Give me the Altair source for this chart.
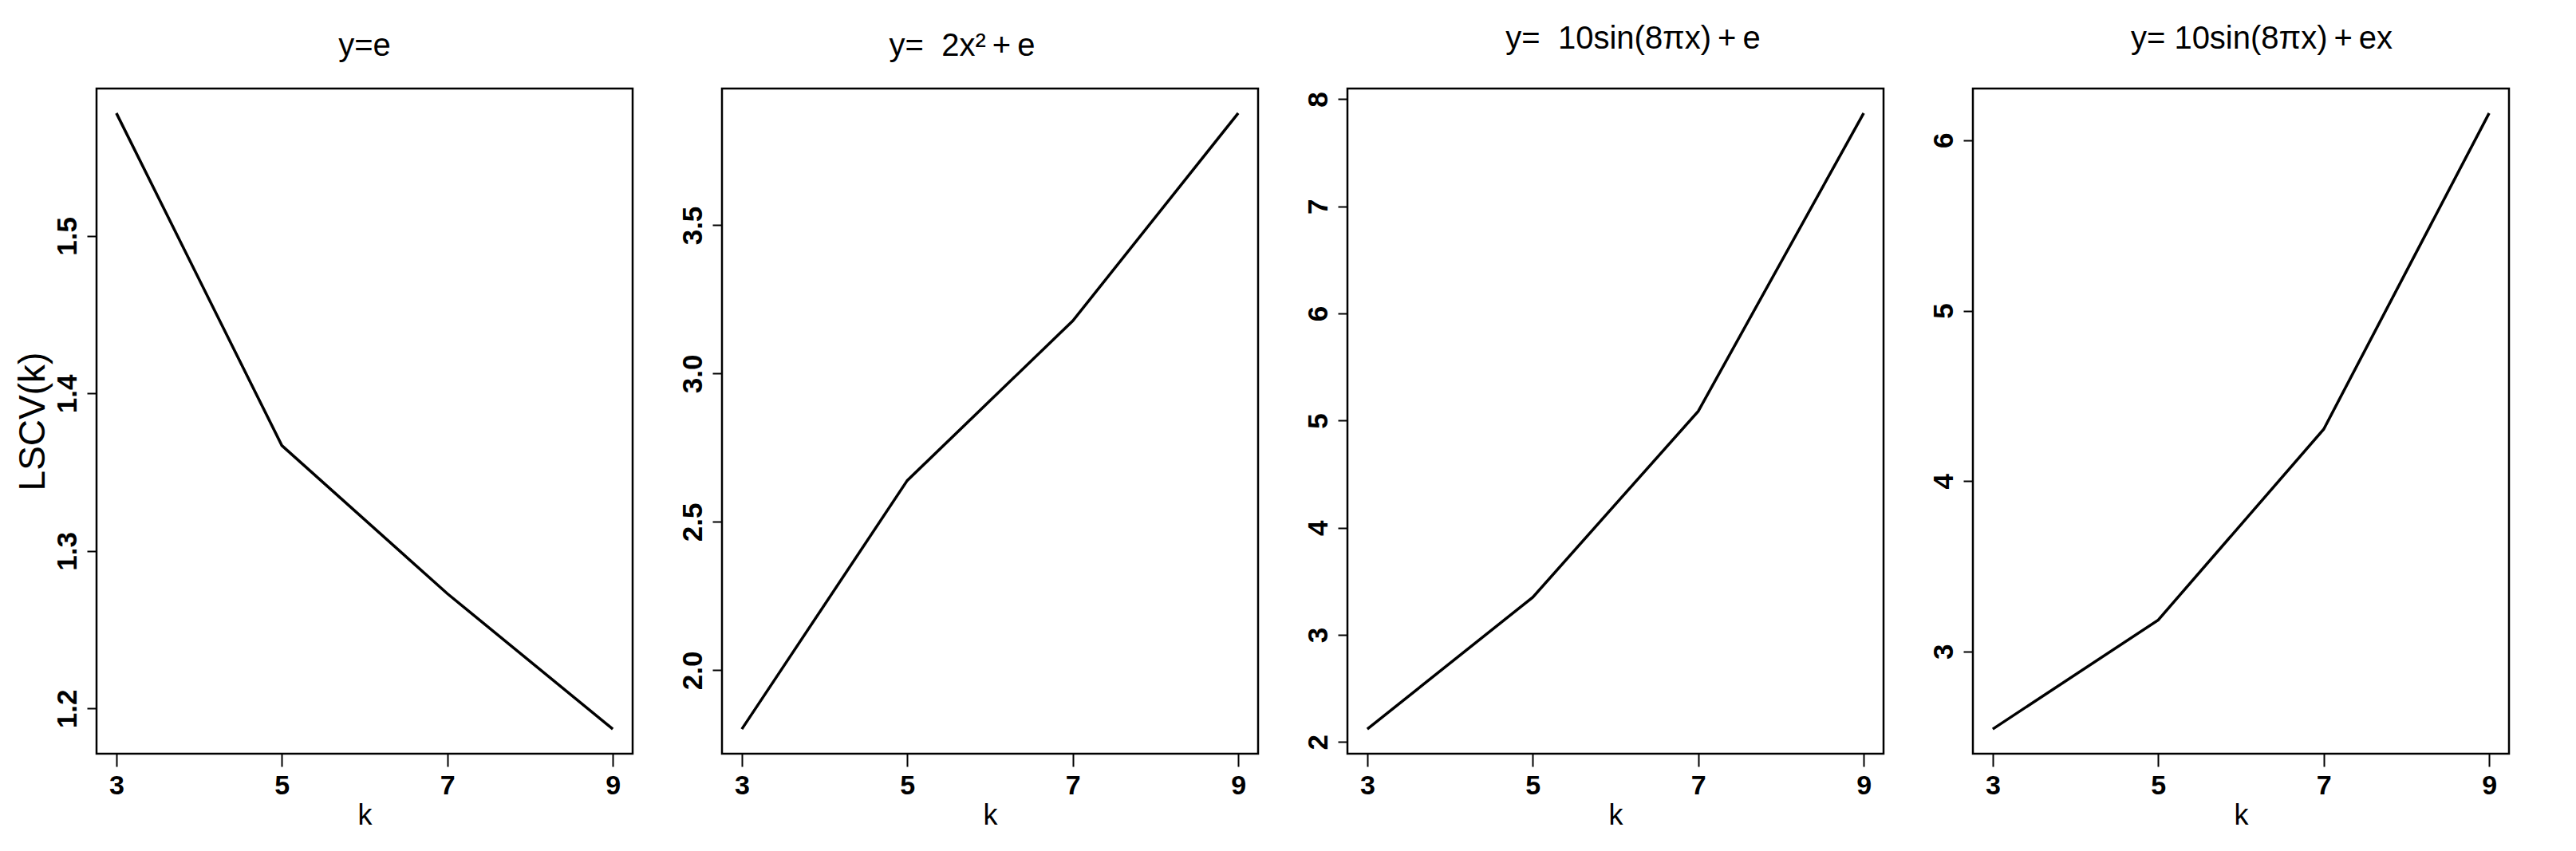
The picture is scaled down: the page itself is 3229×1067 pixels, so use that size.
import altair as alt
import pandas as pd

# ---- data ----
k_values = [3, 5, 7, 9]
lscv_e = [1.578, 1.367, 1.273, 1.187]
lscv_quad = [1.802, 2.640, 3.178, 3.878]
lscv_sin = [2.121, 3.351, 5.087, 7.870]
lscv_sin_ex = [2.545, 3.185, 4.304, 6.159]

series = [lscv_e, lscv_quad, lscv_sin, lscv_sin_ex]
NB = "\u00a0"
TH = "\u2009"
titles = [
    "y=e",
    "y=" + NB + " 2x\u00b2" + TH + "+" + TH + "e",
    "y=" + NB + " 10sin(8\u03c0x)" + TH + "+" + TH + "e",
    "y= 10sin(8\u03c0x)" + TH + "+" + TH + "ex",
]
y_ticks = [[1.2, 1.3, 1.4, 1.5], [2.0, 2.5, 3.0, 3.5], [2, 3, 4, 5, 6, 7, 8], [3, 4, 5, 6]]
y_formats = [".1f", ".1f", "d", "d"]
title_offsets = [1, 1, 10, 10]
title_dx = [0, -35, 22, 26]
x_label = "k"
y_label = "LSCV(k)"

FONT = "Liberation Sans, Arial, Helvetica, sans-serif"
W, H = 672, 834


def panel(i):
    vals = series[i]
    df = pd.DataFrame({"k": k_values, "v": vals})
    lo, hi = min(vals), max(vals)
    ext = 0.04 * (hi - lo)
    x_axis = alt.Axis(
        values=k_values, format="d", title=x_label,
        titleY=88, titleBaseline="alphabetic", titleFontSize=36,
        titleFontWeight="normal", titleFont=FONT, titleColor="black",
        labelFontSize=34, labelFontWeight="bold", labelFont=FONT, labelColor="black",
        tickSize=16, tickWidth=2, tickColor="black", labelPadding=7,
        domain=False, grid=False, labelFlush=False, labelOverlap=False,
    )
    y_kwargs = dict(
        values=y_ticks[i], format=y_formats[i],
        labelFontSize=35, labelFontWeight="bold", labelFont=FONT, labelColor="black",
        labelAngle=270, labelAlign="center", labelBaseline="alphabetic",
        labelPadding=14, tickSize=12, tickWidth=2, tickColor="black",
        domain=False, grid=False, labelFlush=False, labelOverlap=False,
    )
    if i == 0:
        y_kwargs.update(
            title=y_label, titleAngle=270, titleX=-66, titleY=H / 2,
            titleAlign="center", titleBaseline="alphabetic", titleFontSize=46,
            titleFontWeight="normal", titleFont=FONT, titleColor="black",
        )
    else:
        y_kwargs.update(title=None)
    y_axis = alt.Axis(**y_kwargs)

    return (
        alt.Chart(df)
        .mark_line(color="black", strokeWidth=3.5)
        .encode(
            x=alt.X("k:Q", scale=alt.Scale(domain=[2.76, 9.24], nice=False, zero=False), axis=x_axis),
            y=alt.Y("v:Q", scale=alt.Scale(domain=[lo - ext, hi + ext], nice=False, zero=False), axis=y_axis),
        )
        .properties(
            width=W, height=H,
            title=alt.TitleParams(
                text=titles[i], fontSize=40, font=FONT, fontWeight="normal",
                baseline="alphabetic", offset=title_offsets[i], dx=title_dx[i],
                anchor="middle", color="black",
            ),
        )
    )


chart = (
    alt.hconcat(*[panel(i) for i in range(4)], spacing=112, bounds="flush")
    .configure_view(stroke="black", strokeWidth=2.5)
    .properties(
        autosize=alt.AutoSizeParams(type="pad"),
        padding={"left": 8, "top": 19, "right": 0, "bottom": 0},
        background="white",
    )
)

chart.save("out.html", embed_options={"renderer": "svg", "actions": False})
